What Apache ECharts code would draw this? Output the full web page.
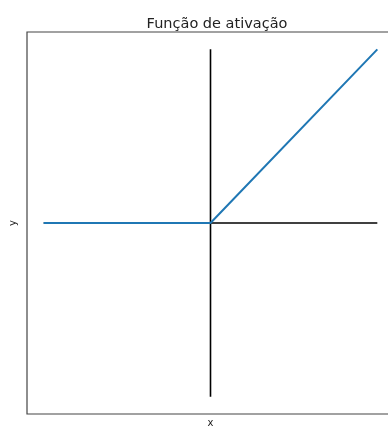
<!DOCTYPE html>
<html>
<head>
<meta charset="utf-8">
<script src="https://cdn.jsdelivr.net/npm/echarts@6/dist/echarts.min.js"></script>
<style>
  html, body { margin: 0; padding: 0; background: #fff; overflow: hidden; }
  #chart { width: 388px; height: 429px; }
</style>
</head>
<body>
<div id="chart"></div>
<script>
// ReLU activation: inputs and outputs
const inputs = [-1, 0, 1];
const outputs = [0, 0, 1];
// reference axes through the origin
const vAxisLine = [[0, -1], [0, 1]];
const hAxisLine = [[-1, 0], [1, 0]];

const chart = echarts.init(document.getElementById('chart'), null, { renderer: 'canvas' });
const font = 'DejaVu Sans';

chart.setOption({
  animation: false,
  backgroundColor: '#fff',
  title: {
    text: 'Função de ativação',
    left: 212,
    textAlign: 'center',
    top: 12,
    textStyle: { fontFamily: font, fontSize: 14.5, fontWeight: 'normal', color: '#222' }
  },
  grid: {
    left: 27, top: 32, width: 367, height: 382,
    outerBoundsMode: 'none',
    containLabel: false,
    show: true, borderColor: '#444', borderWidth: 1.2, backgroundColor: '#fff'
  },
  xAxis: {
    type: 'value', min: -1.1, max: 1.1,
    name: 'x', nameLocation: 'middle', nameGap: 4,
    nameTextStyle: { fontFamily: font, fontSize: 10, color: '#222', verticalAlign: 'top' },
    axisLine: { show: false }, axisTick: { show: false },
    axisLabel: { show: false }, splitLine: { show: false }
  },
  yAxis: {
    type: 'value', min: -1.1, max: 1.1,
    name: 'y', nameLocation: 'middle', nameGap: 9, nameRotate: 90,
    nameTextStyle: { fontFamily: font, fontSize: 10, color: '#222' },
    axisLine: { show: false }, axisTick: { show: false },
    axisLabel: { show: false }, splitLine: { show: false }
  },
  series: [
    {
      type: 'line', data: vAxisLine, symbol: 'none',
      lineStyle: { color: '#000', width: 1.6 }
    },
    {
      type: 'line', data: hAxisLine, symbol: 'none',
      lineStyle: { color: '#000', width: 1.6 }
    },
    {
      type: 'line', data: inputs.map((x, i) => [x, outputs[i]]), symbol: 'none',
      lineStyle: { color: '#1f77b4', width: 2 }
    }
  ]
});
</script>
</body>
</html>
